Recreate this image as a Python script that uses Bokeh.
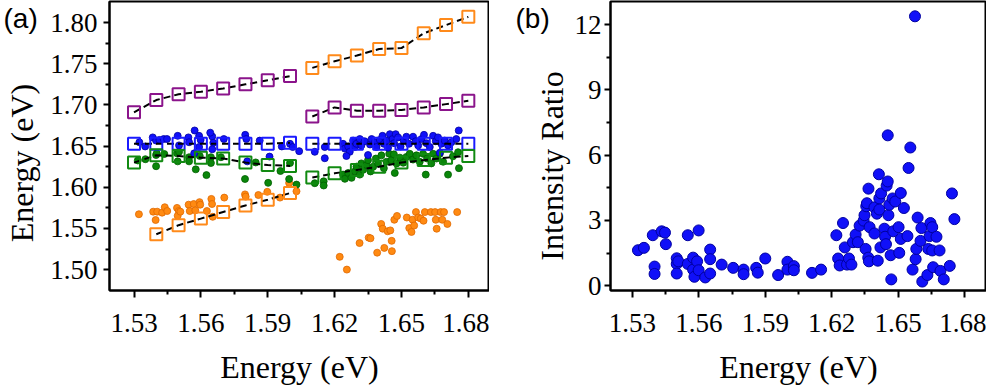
from bokeh.plotting import figure
from bokeh.layouts import row, column
from bokeh.models import Range1d, FixedTicker, NumeralTickFormatter
from bokeh.embed import file_html
from bokeh.resources import INLINE

# ---------------- data: panel (a) ----------------
sq_x_left = [1.53, 1.54, 1.55, 1.56, 1.57, 1.58, 1.59, 1.60]
sq_x_right = [1.61, 1.62, 1.63, 1.64, 1.65, 1.66, 1.67, 1.68]
sq_x_orange_low = [1.54, 1.55, 1.56, 1.57, 1.58, 1.59, 1.60]

purple_left = [1.691, 1.706, 1.713, 1.716, 1.720, 1.725, 1.730, 1.735]
purple_right = [1.686, 1.697, 1.693, 1.693, 1.694, 1.697, 1.701, 1.705]
orange_top_right = [1.745, 1.753, 1.760, 1.768, 1.769, 1.787, 1.797, 1.807]
blue_left = [1.653, 1.653, 1.653, 1.653, 1.653, 1.653, 1.653, 1.654]
blue_right = [1.653, 1.653, 1.653, 1.653, 1.653, 1.653, 1.653, 1.653]
green_left = [1.630, 1.639, 1.638, 1.636, 1.635, 1.630, 1.627, 1.626]
green_right = [1.612, 1.617, 1.621, 1.625, 1.630, 1.633, 1.636, 1.638]
orange_low = [1.543, 1.554, 1.562, 1.570, 1.578, 1.585, 1.593]

blue_pts_x = [1.5324, 1.5350, 1.5384, 1.5399, 1.5414, 1.5433, 1.5448, 1.5496, 1.5502,
              1.5544, 1.5547, 1.5572, 1.5592, 1.5599, 1.5592, 1.5570, 1.5651, 1.5656,
              1.5651, 1.5642, 1.5703, 1.5799, 1.5804, 1.5864, 1.5908, 1.5808, 1.5963,
              1.6000, 1.6012, 1.6041, 1.6111, 1.6156, 1.6156, 1.6238, 1.6246, 1.6261,
              1.6268, 1.6253, 1.6283, 1.6291, 1.6298, 1.6313, 1.6320, 1.6335, 1.6350,
              1.6359, 1.6366, 1.6381, 1.6388, 1.6403, 1.6415, 1.6421, 1.6433, 1.6440,
              1.6448, 1.6460, 1.6467, 1.6474, 1.6485, 1.6496, 1.6510, 1.6522, 1.6534,
              1.6552, 1.6564, 1.6575, 1.6590, 1.6601, 1.6612, 1.6627, 1.6642, 1.6654,
              1.6664, 1.6679, 1.6694, 1.6709, 1.6724, 1.6746, 1.6757, 1.6672]
blue_pts_y = [1.6547, 1.6496, 1.6606, 1.6567, 1.6575, 1.6586, 1.6586, 1.6625, 1.6509,
              1.6606, 1.6547, 1.6690, 1.6625, 1.6575, 1.6489, 1.6412, 1.6617, 1.6540,
              1.6462, 1.6663, 1.6586, 1.6637, 1.6586, 1.6567, 1.6373, 1.6315, 1.6496,
              1.6528, 1.6489, 1.6439, 1.6431, 1.6489, 1.6353, 1.6528, 1.6470, 1.6496,
              1.6431, 1.6380, 1.6567, 1.6489, 1.6528, 1.6586, 1.6509, 1.6559, 1.6392,
              1.6520, 1.6586, 1.6547, 1.6489, 1.6575, 1.6625, 1.6528, 1.6567, 1.6481,
              1.6645, 1.6586, 1.6536, 1.6645, 1.6606, 1.6496, 1.6567, 1.6614, 1.6528,
              1.6614, 1.6559, 1.6509, 1.6586, 1.6637, 1.6536, 1.6489, 1.6625, 1.6559,
              1.6606, 1.6528, 1.6567, 1.6509, 1.6547, 1.6586, 1.6690, 1.6419]

green_pts_x = [1.5317, 1.5351, 1.5399, 1.5399, 1.5402, 1.5436, 1.5493, 1.5496, 1.5502,
               1.5547, 1.5547, 1.5577, 1.5595, 1.5625, 1.5645, 1.5645, 1.5690, 1.5798,
               1.5846, 1.5902, 1.5957, 1.6000, 1.5996, 1.6029, 1.6111, 1.6151, 1.6151,
               1.6238, 1.6246, 1.6261, 1.6276, 1.6291, 1.6298, 1.6313, 1.6320, 1.6328,
               1.6343, 1.6350, 1.6361, 1.6373, 1.6385, 1.6395, 1.6410, 1.6421, 1.6433,
               1.6445, 1.6455, 1.6466, 1.6470, 1.6478, 1.6493, 1.6508, 1.6522, 1.6537,
               1.6552, 1.6567, 1.6582, 1.6597, 1.6609, 1.6615, 1.6634, 1.6642, 1.6657,
               1.6672, 1.6687, 1.6709, 1.6731, 1.6754, 1.6758]
green_pts_y = [1.6326, 1.6341, 1.6392, 1.6256, 1.6412, 1.6404, 1.6412, 1.6315, 1.6431,
               1.6365, 1.6315, 1.6218, 1.6381, 1.6148, 1.6365, 1.6295, 1.6365, 1.6101,
               1.6302, 1.6054, 1.6198, 1.6295, 1.6100, 1.6033, 1.6050, 1.6073, 1.6022,
               1.6154, 1.6103, 1.6174, 1.6115, 1.6193, 1.6251, 1.6154, 1.6290, 1.6212,
               1.6271, 1.6329, 1.6193, 1.6251, 1.6349, 1.6290, 1.6388, 1.6232, 1.6310,
               1.6407, 1.6329, 1.6400, 1.6174, 1.6290, 1.6360, 1.6298, 1.6368, 1.6407,
               1.6337, 1.6388, 1.6310, 1.6407, 1.6154, 1.6349, 1.6290, 1.6407, 1.6349,
               1.6407, 1.6310, 1.6154, 1.6376, 1.6426, 1.6232]

orange_pts_x = [1.5322, 1.5386, 1.5397, 1.5404, 1.5426, 1.5438, 1.5449, 1.5493, 1.5501,
                1.5496, 1.5508, 1.5545, 1.5550, 1.5568, 1.5575, 1.5594, 1.5597, 1.5627,
                1.5647, 1.5650, 1.5653, 1.5705, 1.5798, 1.5801, 1.5858, 1.5898, 1.5955,
                1.5996, 1.6029,
                1.6223, 1.6255, 1.6312, 1.6353, 1.6361, 1.6391, 1.6409, 1.6416, 1.6423,
                1.6438, 1.6450, 1.6456, 1.6457, 1.6468, 1.6480, 1.6524, 1.6535, 1.6545,
                1.6550, 1.6557, 1.6565, 1.6575, 1.6587, 1.6599, 1.6605, 1.6632, 1.6651,
                1.6654, 1.6658, 1.6676, 1.6683, 1.6691, 1.6706, 1.6750]
orange_pts_y = [1.5673, 1.5704, 1.5603, 1.5704, 1.5692, 1.5758, 1.5712, 1.5750, 1.5712,
                1.5654, 1.5704, 1.5789, 1.5712, 1.5797, 1.5720, 1.5820, 1.5789, 1.5712,
                1.5859, 1.5797, 1.5642, 1.5875, 1.5914, 1.5887, 1.5906, 1.5945, 1.5875,
                1.6053, 1.5952,
                1.5156, 1.5001, 1.5323, 1.5389, 1.5381, 1.5206, 1.5555, 1.5497, 1.5264,
                1.5466, 1.5477, 1.5350, 1.5225, 1.5606, 1.5652, 1.5633, 1.5505, 1.5458,
                1.5606, 1.5536, 1.5699, 1.5633, 1.5621, 1.5594, 1.5699, 1.5699, 1.5699,
                1.5606, 1.5497, 1.5699, 1.5606, 1.5699, 1.5555, 1.5699]

# ---------------- data: panel (b) ----------------
ratio_x = [1.5325, 1.5352, 1.5392, 1.5400, 1.5400, 1.5432, 1.5447, 1.5451, 1.5500, 1.5500,
           1.5500, 1.5507, 1.5550, 1.5550, 1.5574, 1.5574, 1.5580, 1.5592, 1.5599, 1.5599,
           1.5629, 1.5651, 1.5651, 1.5651, 1.5703, 1.5755, 1.5802, 1.5802, 1.5859, 1.5866,
           1.5900, 1.5958, 1.6000, 1.6000, 1.6029, 1.6029, 1.6111, 1.6152,
           1.6221, 1.6229, 1.6236, 1.6251, 1.6259, 1.6269, 1.6278, 1.6289, 1.6296, 1.6308,
           1.6318, 1.6326, 1.6344, 1.6348, 1.6353, 1.6356, 1.6359, 1.6366, 1.6365, 1.6368,
           1.6371, 1.6393, 1.6393, 1.6404, 1.6408, 1.6413, 1.6415, 1.6423, 1.6415, 1.6420,
           1.6438, 1.6441, 1.6445, 1.6448, 1.6453, 1.6453, 1.6456, 1.6460, 1.6466, 1.6469,
           1.6475, 1.6478, 1.6487, 1.6502, 1.6505, 1.6512, 1.6512, 1.6526, 1.6542, 1.6547,
           1.6555, 1.6565, 1.6576, 1.6579, 1.6582, 1.6588, 1.6601, 1.6605, 1.6609, 1.6632,
           1.6636, 1.6642, 1.6646, 1.6654, 1.6654, 1.6658, 1.6673, 1.6687, 1.6691, 1.6706,
           1.6733, 1.6743, 1.6754]
ratio_y = [1.63, 1.74, 2.32, 0.88, 0.54, 2.50, 2.44, 1.91, 1.26, 1.00,
           0.56, 1.12, 2.32, 1.00, 1.29, 0.74, 0.41, 1.12, 2.54, 0.71,
           0.38, 1.66, 1.22, 0.56, 0.97, 0.82, 0.74, 0.53, 0.82, 0.60,
           1.25, 0.49, 1.10, 0.74, 0.90, 0.71, 0.59, 0.74,
           2.32, 1.25, 0.93, 2.88, 1.76, 0.97, 1.25, 0.97, 2.00, 2.35,
           2.00, 2.76, 2.99, 3.24, 1.69, 3.65, 3.79, 4.46, 1.29, 1.12,
           2.69, 2.40, 3.60, 3.31, 1.15, 5.12, 4.01, 4.24, 3.50, 1.76,
           2.62, 2.25, 1.91, 4.60, 4.79, 6.91, 3.24, 3.72, 1.40, 0.29,
           4.01, 2.50, 3.87, 2.69, 1.51, 2.15, 4.26, 3.57, 2.28, 5.41,
           6.35, 0.74, 12.38, 1.22, 1.69, 3.13, 2.06, 2.65, 0.19, 0.49,
           1.69, 2.28, 2.88, 2.69, 1.62, 0.85, 2.25, 1.62, 0.68, 0.29,
           0.91, 4.24, 3.06]

# tick labels
xa_ticks = [1.53, 1.56, 1.59, 1.62, 1.65, 1.68]
xa_minor = [1.545, 1.575, 1.605, 1.635, 1.665]
ya_ticks = [1.50, 1.55, 1.60, 1.65, 1.70, 1.75, 1.80]
ya_minor = [1.525, 1.575, 1.625, 1.675, 1.725, 1.775]
yb_ticks = [0, 3, 6, 9, 12]
yb_minor = [1.5, 4.5, 7.5, 10.5]

BLUE = "#1010f8"
GREEN = "#0a860a"
ORANGE = "#ff8a12"
PURPLE = "#8b148b"
SQ_BLUE = "#1a1aff"
SQ_GREEN = "#118a11"
SQ_ORANGE = "#ff8a1a"

SERIF = "Liberation Serif"
FRAME_H = 289


def style(p, xt, xm, yt, ym, yfmt, ystandoff):
    p.grid.visible = False
    p.outline_line_color = "black"
    p.outline_line_width = 2
    p.outline_line_alpha = 1
    p.background_fill_color = "white"
    p.border_fill_color = "white"
    p.xaxis.ticker = FixedTicker(ticks=xt, minor_ticks=xm)
    p.yaxis.ticker = FixedTicker(ticks=yt, minor_ticks=ym)
    p.xaxis.formatter = NumeralTickFormatter(format="0.00")
    p.yaxis.formatter = NumeralTickFormatter(format=yfmt)
    for ax in (p.xaxis[0], p.yaxis[0]):
        ax.axis_line_width = 2
        ax.axis_line_color = "black"
        ax.major_tick_line_width = 2
        ax.minor_tick_line_width = 2
        ax.major_tick_line_color = "black"
        ax.minor_tick_line_color = "black"
        ax.major_tick_in = 0
        ax.minor_tick_in = 0
        ax.major_label_text_font = SERIF
        ax.major_label_text_font_size = "27px"
        ax.major_label_text_color = "black"
        ax.axis_label_text_font = SERIF
        ax.axis_label_text_font_size = "32px"
        ax.axis_label_text_font_style = "normal"
        ax.axis_label_text_color = "black"
    p.xaxis.major_tick_out = 7
    p.xaxis.minor_tick_out = 4
    p.yaxis.major_tick_out = 6
    p.yaxis.minor_tick_out = 4
    p.xaxis.major_label_standoff = 16
    p.yaxis.major_label_standoff = ystandoff
    p.xaxis.axis_label_standoff = 14


def label_strip(width, height, tag, tag_x, text, frame_left):
    """Strip whose invisible left axis carries the vertical axis title and whose
    title carries the panel tag."""
    f = figure(width=width, height=height, output_backend="svg", toolbar_location=None,
               x_range=Range1d(0, 1), y_range=Range1d(0, 1), x_axis_type=None,
               y_axis_label=text, title=tag,
               min_border_left=frame_left, min_border_right=0,
               min_border_top=0, min_border_bottom=0)
    f.grid.visible = False
    f.outline_line_color = None
    f.background_fill_color = "white"
    f.border_fill_color = "white"
    f.title.align = "left"
    f.title.offset = tag_x - frame_left
    f.title.standoff = 0
    f.title.text_font = "Liberation Sans"
    f.title.text_font_size = "28px"
    f.title.text_font_style = "normal"
    f.title.text_color = "black"
    ax = f.yaxis[0]
    ax.ticker = FixedTicker(ticks=[], minor_ticks=[])
    ax.axis_line_color = None
    ax.major_tick_out = 0
    ax.major_tick_in = 0
    ax.minor_tick_out = 0
    ax.minor_tick_in = 0
    ax.major_label_standoff = 0
    ax.axis_label_standoff = 0
    ax.axis_label_text_font = SERIF
    ax.axis_label_text_font_size = "32px"
    ax.axis_label_text_font_style = "normal"
    ax.axis_label_text_color = "black"
    return f


# ---------------- panel (a) ----------------
xa0, xa1 = 1.519, 1.6895
ya0, ya1 = 1.4747, 1.8256
pa = figure(frame_width=380, frame_height=FRAME_H, output_backend="svg", toolbar_location=None,
            x_range=Range1d(xa0, xa1), y_range=Range1d(ya0, ya1),
            min_border_left=67, min_border_right=0, min_border_top=1, min_border_bottom=0,
            x_axis_label="Energy (eV)")
style(pa, xa_ticks, xa_minor, ya_ticks, ya_minor, "0.00", 6)

pa.scatter(orange_pts_x, orange_pts_y, size=7, fill_color=ORANGE, line_color="#e06800", line_width=0.8)
pa.scatter(green_pts_x, green_pts_y, size=7, fill_color=GREEN, line_color="#006000", line_width=0.8)
pa.scatter(blue_pts_x, blue_pts_y, size=7, fill_color=BLUE, line_color="#0000a0", line_width=0.8)

series = [
    (sq_x_left, purple_left, PURPLE),
    (sq_x_right, purple_right, PURPLE),
    (sq_x_right, orange_top_right, SQ_ORANGE),
    (sq_x_left, blue_left, SQ_BLUE),
    (sq_x_right, blue_right, SQ_BLUE),
    (sq_x_left, green_left, SQ_GREEN),
    (sq_x_right, green_right, SQ_GREEN),
    (sq_x_orange_low, orange_low, SQ_ORANGE),
]
for xs, ys, col in series:
    pa.line(xs, ys, line_color="black", line_width=2, line_dash="7 4")
for xs, ys, col in series:
    pa.scatter(xs, ys, marker="square", size=12, fill_color=None, line_color=col, line_width=2)

# ---------------- panel (b) ----------------
xb0, xb1 = 1.5201, 1.6899
yb0, yb1 = -0.22, 13.06
pb = figure(frame_width=376, frame_height=FRAME_H, output_backend="svg", toolbar_location=None,
            x_range=Range1d(xb0, xb1), y_range=Range1d(yb0, yb1),
            min_border_left=36, min_border_right=0, min_border_top=1, min_border_bottom=0,
            x_axis_label="Energy (eV)")
style(pb, xa_ticks, xa_minor, yb_ticks, yb_minor, "0", 3)
pb.scatter(ratio_x, ratio_y, size=11, fill_color=BLUE, line_color="#0000a0", line_width=1)

strip_a = column(label_strip(42, 292, "(a)", 0, "Energy (eV)", 36), spacing=0)
strip_b = column(label_strip(82, 298, "(b)", 26, "Intensity Ratio", 80), spacing=0)

layout = row(strip_a, pa, strip_b, pb, spacing=0)
open("out.html", "w").write(file_html(layout, INLINE))
